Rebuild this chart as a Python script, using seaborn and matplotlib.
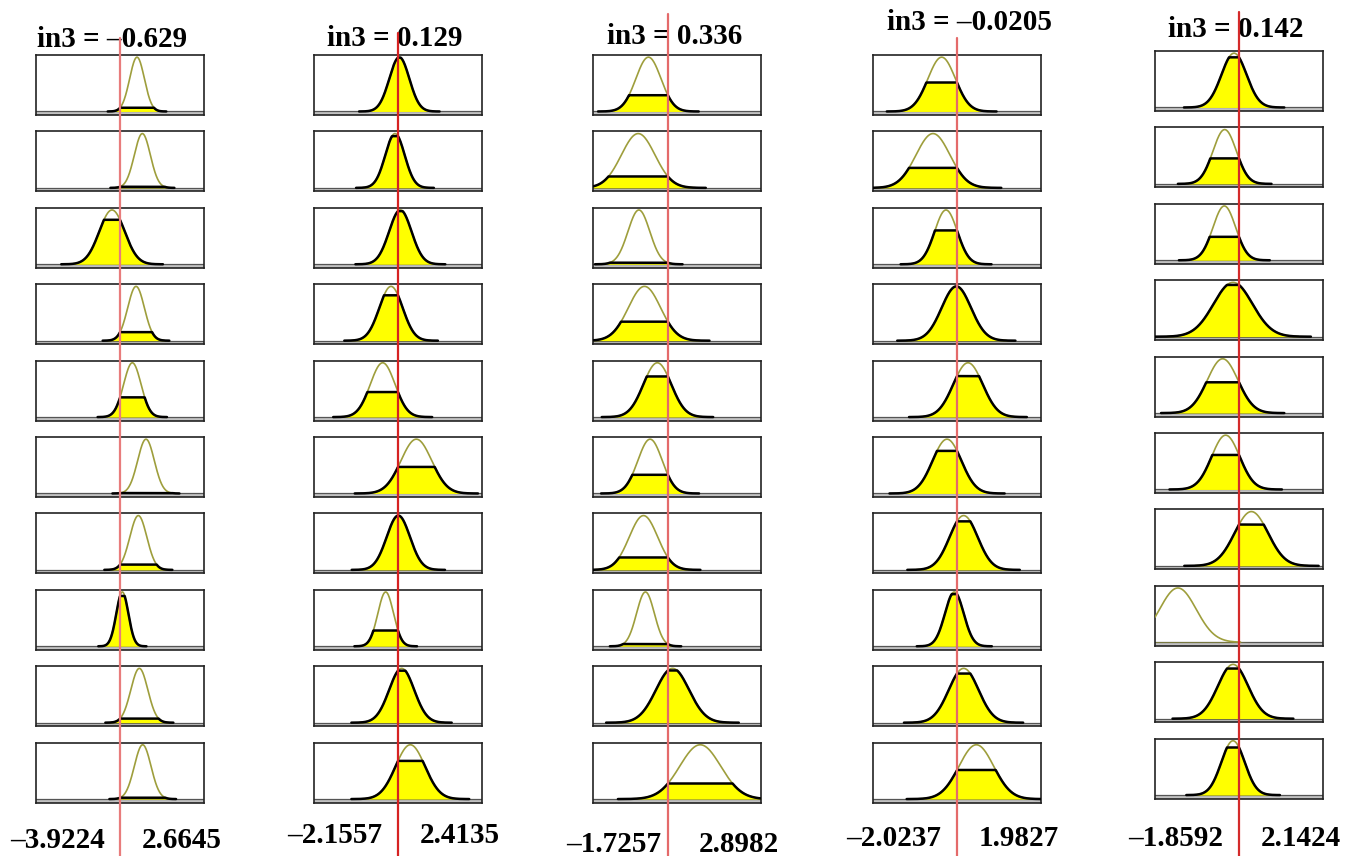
import numpy as np
import matplotlib
matplotlib.use("Agg")
import matplotlib.pyplot as plt
import seaborn as sns
from matplotlib.lines import Line2D

# ---------------- data ----------------
input_name = "in3"
input_values = [-0.629, 0.129, 0.336, -0.0205, 0.142]
input_labels = ["–0.629", "0.129", "0.336", "–0.0205", "0.142"]
range_min = [-3.9224, -2.1557, -1.7257, -2.0237, -1.8592]
range_max = [2.6645, 2.4135, 2.8982, 1.9827, 2.1424]
range_min_labels = ["–3.9224", "–2.1557", "–1.7257", "–2.0237", "–1.8592"]
range_max_labels = ["2.6645", "2.4135", "2.8982", "1.9827", "2.1424"]

# Gaussian membership functions (centre, sigma) per rule row, one list per column
centers_c1 = [0.038, 0.247, -0.943, 0.000, -0.145, 0.390, 0.090, -0.537, 0.129, 0.260]
sigmas_c1 = [0.288, 0.314, 0.497, 0.327, 0.340, 0.327, 0.333, 0.235, 0.333, 0.327]
centers_c2 = [0.165, 0.047, 0.192, -0.061, -0.288, 0.628, 0.138, -0.206, 0.229, 0.464]
sigmas_c2 = [0.272, 0.263, 0.304, 0.317, 0.335, 0.417, 0.317, 0.213, 0.340, 0.399]
centers_c3 = [-0.200, -0.482, -0.463, -0.309, 0.045, -0.155, -0.336, -0.282, 0.463, 1.226]
sigmas_c3 = [0.345, 0.463, 0.300, 0.445, 0.382, 0.336, 0.391, 0.245, 0.454, 0.563]
centers_c4 = [-0.386, -0.593, -0.283, -0.036, 0.242, -0.259, 0.138, -0.084, 0.138, 0.441]
sigmas_c4 = [0.326, 0.405, 0.270, 0.350, 0.350, 0.342, 0.334, 0.223, 0.354, 0.413]
centers_c5 = [0.023, -0.200, -0.208, -0.001, -0.248, -0.176, 0.436, -1.314, -0.001, -0.001]
sigmas_c5 = [0.298, 0.278, 0.270, 0.461, 0.366, 0.334, 0.398, 0.438, 0.358, 0.278]

centers = [centers_c1, centers_c2, centers_c3, centers_c4, centers_c5]
sigmas = [sigmas_c1, sigmas_c2, sigmas_c3, sigmas_c4, sigmas_c5]

# ---------------- layout (pixels) ----------------
W, H = 1357, 856
col_left = [36, 314, 593, 873, 1155]
col_top = [55, 55, 55, 55, 51]
pw, ph, pitch = 168, 60, 76.4
title_cx = [112, 395, 675, 969, 1236]
title_base = [47, 46, 44, 30, 37]
red_top = [38, 33, 14, 38, 12]
red_colors = ["#e87c7c", "#d62222", "#e46a6a", "#e46a6a", "#d42a2a"]
label_base = [848, 843, 852, 846, 846]

sns.set_style("white")
plt.rcParams['font.family'] = ['Liberation Serif', 'DejaVu Serif']

fig = plt.figure(figsize=(W / 100, H / 100), dpi=100)
fig.patch.set_facecolor("white")


def fx(px):
    return px / W


def fy(py):
    return 1 - py / H


for j in range(5):
    lo, hi = range_min[j], range_max[j]
    xin = input_values[j]
    x = np.linspace(lo, hi, 500)
    first_ax = None
    for i in range(10):
        top = col_top[j] + i * pitch
        ax = fig.add_axes([fx(col_left[j]), fy(top + ph), pw / W, ph / H])
        if first_ax is None:
            first_ax = ax
        c, s = centers[j][i], sigmas[j][i]
        mf = np.exp(-0.5 * ((x - c) / s) ** 2)
        lvl = np.exp(-0.5 * ((xin - c) / s) ** 2)
        clip = np.minimum(mf, lvl)

        ax.axhspan(-0.07, 0, color="#c2c2c2", lw=0, zorder=0)
        ax.axhline(0, color="#555555", lw=0.9, zorder=1)
        ax.fill_between(x, 0, clip, color="#ffff00", lw=0, zorder=2)
        m1 = mf > 0.003
        sns.lineplot(x=x[m1], y=mf[m1], ax=ax, color="#9e9e3c", lw=1.2,
                     sort=False, estimator=None, zorder=3)
        m2 = clip > 0.0003
        if m2.sum() > 1 and lvl > 0.006:
            sns.lineplot(x=x[m2], y=clip[m2], ax=ax, color="black", lw=1.8,
                         sort=False, estimator=None, zorder=4)
        ax.set_xlim(lo, hi)
        ax.set_ylim(-0.065, 1.04)
        ax.set_xticks([])
        ax.set_yticks([])
        ax.set_xlabel("")
        ax.set_ylabel("")
        ax.set_facecolor("white")
        for sp in ax.spines.values():
            sp.set_visible(True)
            sp.set_color("#222222")
            sp.set_linewidth(1.2)

    # red vertical line through the input value
    disp = first_ax.transData.transform((xin, 0))
    xf = fig.transFigure.inverted().transform(disp)[0]
    fig.add_artist(Line2D([xf, xf], [fy(red_top[j]), 0], transform=fig.transFigure,
                          color=red_colors[j], lw=1.6, zorder=10))

    fig.text(fx(title_cx[j]), fy(title_base[j]), f"{input_name} = {input_labels[j]}",
             ha="center", va="baseline", fontsize=21, fontweight="bold", color="black")
    fig.text(fx(col_left[j] + 21), fy(label_base[j]), range_min_labels[j],
             ha="center", va="baseline", fontsize=21, fontweight="bold", color="black")
    fig.text(fx(col_left[j] + pw - 22), fy(label_base[j]), range_max_labels[j],
             ha="center", va="baseline", fontsize=21, fontweight="bold", color="black")

fig.savefig("out.png", dpi=100, facecolor=fig.get_facecolor())
